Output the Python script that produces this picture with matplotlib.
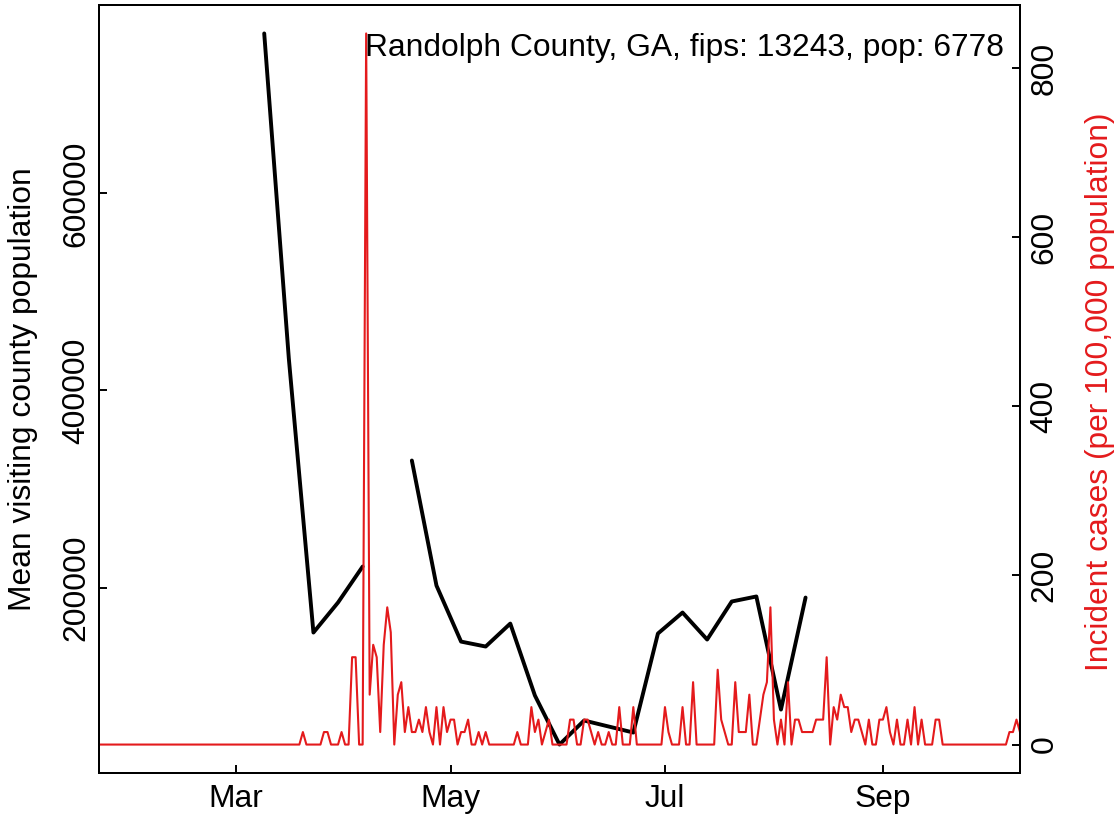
import matplotlib
matplotlib.use("Agg")
import matplotlib.pyplot as plt
import matplotlib.dates as mdates
import numpy as np
import pandas as pd

# ---------------- data ----------------
title_text = "Randolph County, GA, fips: 13243, pop: 6778"
left_label = "Mean visiting county population"
right_label = "Incident cases (per 100,000 population)"

# weekly mean visiting county population (black)
visit_dates = ["2020-03-09", "2020-03-16", "2020-03-23", "2020-03-30", "2020-04-06",
               "2020-04-13", "2020-04-20", "2020-04-27", "2020-05-04", "2020-05-11",
               "2020-05-18", "2020-05-25", "2020-06-01", "2020-06-08", "2020-06-15",
               "2020-06-22", "2020-06-29", "2020-07-06", "2020-07-13", "2020-07-20",
               "2020-07-27", "2020-08-03", "2020-08-10"]
visit_values = [762400, 432500, 154300, 184800, 221300,
                np.nan, 328900, 202000, 145100, 140100,
                163400, 90400, 40600, 65000, 58900,
                52800, 153300, 174600, 147200, 185800,
                190900, 76100, 189800]

# daily incident cases per 100,000 (red), starting 2020-01-22
cases_start = "2020-01-22"
cases_values = [
    0, 0, 0, 0, 0, 0, 0, 0, 0, 0,                      # Jan 22 -
    0, 0, 0, 0, 0, 0, 0, 0, 0, 0,
    0, 0, 0, 0, 0, 0, 0, 0, 0, 0,
    0, 0, 0, 0, 0, 0, 0, 0, 0, 0,
    0, 0, 0, 0, 0, 0, 0, 0, 0, 0,
    0, 0, 0, 0, 0, 0, 0, 0, 14.8, 0,
    0, 0, 0, 0, 14.8, 14.8, 0, 0, 0, 14.8,
    0, 0, 103.3, 103.3, 0, 0, 841.0, 59.0, 118.0, 103.3,
    14.8, 118.0, 162.3, 132.8, 0, 59.0, 73.8, 14.8, 44.3, 14.8,
    14.8, 29.5, 14.8, 44.3, 14.8, 0, 44.3, 0, 44.3, 14.8,
    29.5, 29.5, 0, 14.8, 14.8, 29.5, 0, 0, 14.8, 0,
    14.8, 0, 0, 0, 0, 0, 0, 0, 0, 14.8,
    0, 0, 0, 44.3, 14.8, 29.5, 0, 14.8, 29.5, 0,
    0, 0, 0, 0, 29.5, 29.5, 0, 0, 29.5, 29.5,
    14.8, 0, 14.8, 0, 0, 14.8, 0, 0, 44.3, 0,
    0, 0, 44.3, 0, 0, 0, 0, 0, 0, 0,
    0, 44.3, 14.8, 0, 0, 0, 44.3, 0, 0, 73.8,
    0, 0, 0, 0, 0, 0, 88.5, 29.5, 14.8, 0,
    0, 73.8, 14.8, 14.8, 14.8, 59.0, 0, 0, 29.5, 59.0,
    73.8, 162.3, 29.5, 0, 29.5, 0, 73.8, 0, 29.5, 29.5,
    14.8, 14.8, 14.8, 14.8, 29.5, 29.5, 29.5, 103.3, 0, 44.3,
    29.5, 59.0, 44.3, 44.3, 14.8, 29.5, 29.5, 14.8, 0, 29.5,
    0, 0, 29.5, 29.5, 44.3, 14.8, 0, 29.5, 0, 0,
    29.5, 0, 44.3, 0, 29.5, 0, 0, 0, 29.5, 29.5,
    0, 0, 0, 0, 0, 0, 0, 0, 0, 0,
    0, 0, 0, 0, 0, 0, 0, 0, 0, 14.8,
    14.8, 29.5, 14.8,
]

left_ticks = [200000, 400000, 600000]
left_ticklabels = ["200000", "400000", "600000"]
right_ticks = [0, 200, 400, 600, 800]
right_ticklabels = ["0", "200", "400", "600", "800"]
month_ticks = ["2020-03-01", "2020-05-01", "2020-07-01", "2020-09-01"]
month_labels = ["Mar", "May", "Jul", "Sep"]

# ---------------- style ----------------
W, H = 1119, 822
RED = "#E41A1C"
FS = 22.85
plt.rcParams["font.family"] = ["Liberation Sans", "DejaVu Sans"]
plt.rcParams["font.size"] = FS

fig = plt.figure(figsize=(W / 100, H / 100), dpi=100)
L, R, T, B = 99, 1020, 5, 773
ax = fig.add_axes([L / W, (H - B) / H, (R - L) / W, (B - T) / H])

vd = pd.to_datetime(visit_dates)
cd = pd.date_range(cases_start, periods=len(cases_values), freq="D")

ax.plot(vd, visit_values, color="black", lw=2.8, solid_joinstyle="round",
        solid_capstyle="round", zorder=3)

vv = np.array(visit_values, dtype=float)
vmin, vmax = np.nanmin(vv), np.nanmax(vv)
pad = 0.04 * (vmax - vmin)
ax.set_ylim(vmin - pad, vmax + pad)
ax.set_xlim(cd[0], cd[-1])

ax.set_yticks(left_ticks, left_ticklabels, rotation=90, va="center")
ax.set_xticks(pd.to_datetime(month_ticks), month_labels)
ax.tick_params(axis="both", direction="in", length=5.8, width=1.4, labelsize=FS)
ax.tick_params(axis="y", pad=5.3)
ax.tick_params(axis="x", pad=7.8)
for s in ax.spines.values():
    s.set_linewidth(1.4)

ax2 = ax.twinx()
ax2.plot(cd, cases_values, color=RED, lw=1.5, solid_joinstyle="round", zorder=2)
cv = np.array(cases_values)
cpad = 0.04 * (cv.max() - cv.min())
ax2.set_ylim(cv.min() - cpad, cv.max() + cpad)
ax2.set_xlim(cd[0], cd[-1])
ax2.set_yticks(right_ticks, right_ticklabels, rotation=90, va="center")
ax2.tick_params(axis="y", direction="in", length=5.8, width=1.4, labelsize=FS, pad=7.0)
for s in ax2.spines.values():
    s.set_linewidth(1.4)

fig.text(23 / W, 1 - 389 / H, left_label, rotation=90, ha="center", va="center",
         fontsize=FS, color="black")
fig.text(1100 / W, 1 - 392 / H, right_label, rotation=90, ha="center", va="center",
         fontsize=FS, color=RED)
fig.text(365 / W, 1 - 55.6 / H, title_text, ha="left", va="baseline", fontsize=FS,
         color="black")

fig.savefig("out.png", dpi=100)
